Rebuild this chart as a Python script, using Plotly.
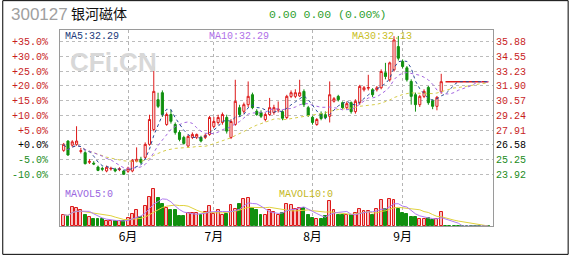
import plotly.graph_objects as go
import pandas as pd

# ---------------- data ----------------
opens = [26.08, 26.92, 26.55, 26.62, 25.98, 25.87, 25.00, 24.92, 24.57, 24.45,
         24.22, 24.40, 24.37, 24.33, 24.22, 24.19, 24.22, 25.10, 25.27, 25.45,
         26.62, 27.97, 30.66, 31.29, 28.42, 29.32, 28.42, 27.70, 27.25, 26.47,
         27.25, 27.27, 27.25, 27.25, 27.52, 28.24, 28.60, 28.60, 29.05, 27.25,
         28.42, 29.94, 29.61, 30.21, 31.11, 29.61, 29.50, 28.87, 29.32, 29.50,
         29.72, 29.58, 29.05, 30.96, 30.96, 31.00, 31.41, 29.94, 29.07, 28.42,
         29.41, 29.30, 29.16, 30.52, 30.96, 30.39, 29.94, 30.39, 29.58, 30.39,
         31.56, 31.70, 31.56, 31.56, 31.74, 33.09, 32.46, 33.36, 35.46, 34.11,
         33.54, 32.31, 31.11, 30.21, 30.96, 31.77, 30.57, 30.06, 31.41]
highs = [26.75, 27.00, 27.00, 28.26, 26.30, 26.00, 25.30, 25.10, 24.70, 24.60,
         24.70, 24.60, 24.50, 24.55, 24.30, 24.60, 25.30, 26.35, 25.50, 26.80,
         29.30, 33.66, 31.29, 31.50, 29.50, 29.76, 28.60, 27.90, 27.40, 27.50,
         27.70, 27.60, 27.40, 27.60, 29.20, 29.10, 29.30, 29.50, 29.30, 28.90,
         32.46, 30.20, 30.40, 32.31, 31.30, 29.80, 29.70, 29.50, 30.82, 30.20,
         30.50, 29.70, 31.10, 31.50, 31.60, 32.46, 31.60, 30.10, 29.20, 29.00,
         29.60, 29.60, 32.31, 30.90, 31.10, 30.50, 30.50, 30.50, 30.70, 32.00,
         31.90, 32.91, 31.70, 31.90, 33.40, 33.99, 34.10, 36.40, 36.42, 34.30,
         33.70, 32.50, 31.30, 31.10, 31.60, 31.90, 30.70, 31.00, 33.00]
lows = [25.95, 25.60, 26.40, 26.50, 25.80, 24.80, 24.85, 24.75, 24.20, 24.20,
        24.10, 24.25, 24.10, 24.20, 23.85, 24.05, 24.10, 25.00, 24.85, 25.30,
        26.50, 27.80, 29.90, 29.10, 28.30, 28.50, 27.50, 26.90, 26.60, 26.30,
        27.10, 27.10, 26.80, 27.10, 27.40, 28.10, 28.40, 28.40, 27.60, 27.10,
        28.30, 29.10, 29.40, 30.00, 29.80, 29.20, 29.00, 28.70, 29.20, 29.30,
        29.50, 28.80, 28.90, 30.80, 30.80, 30.90, 30.00, 29.10, 28.40, 28.30,
        28.80, 28.90, 28.60, 30.40, 30.50, 29.80, 29.80, 29.40, 29.40, 30.20,
        31.40, 31.50, 30.90, 31.40, 31.60, 32.50, 32.30, 33.20, 34.20, 33.50,
        32.30, 30.21, 29.58, 30.00, 30.80, 30.20, 29.80, 29.70, 31.20]
closes = [26.62, 25.66, 26.85, 26.92, 26.05, 24.88, 25.08, 24.85, 24.27, 24.38,
          24.55, 24.45, 24.22, 24.40, 23.92, 24.46, 25.18, 25.27, 25.00, 26.62,
          28.87, 31.41, 30.06, 29.32, 29.32, 28.71, 27.70, 27.07, 26.71, 27.34,
          27.52, 27.52, 26.92, 27.43, 29.05, 28.69, 29.05, 29.32, 27.82, 28.69,
          30.51, 29.32, 30.21, 30.96, 29.94, 29.32, 29.16, 29.32, 29.94, 29.94,
          29.80, 28.98, 30.96, 31.29, 31.29, 31.29, 30.21, 29.25, 28.60, 28.87,
          28.96, 29.05, 31.11, 30.75, 30.66, 29.94, 30.30, 29.58, 30.51, 31.86,
          31.74, 31.76, 31.11, 31.74, 33.21, 32.76, 33.99, 36.06, 34.41, 33.66,
          32.46, 30.96, 30.21, 30.96, 31.41, 30.39, 30.06, 30.87, 32.29]
# suspended days (no trading, price held at last close)
suspended_close = [32.29] * 11

volumes = [3400, 3000, 5700, 5500, 4700, 3400, 2700, 2000, 2000, 2000,
           1600, 1400, 1500, 1600, 1500, 2400, 3700, 4700, 2700, 6000,
           8700, 11000, 8400, 6700, 5400, 4900, 4700, 3000, 3000, 3900,
           3900, 3900, 3200, 4200, 6000, 3700, 4700, 3200, 3700, 6400,
           5200, 6700, 8200, 8400, 5400, 4700, 3200, 3400, 4700, 4200,
           3400, 4000, 6700, 6200, 5000, 5400, 5400, 3400, 2400, 2200,
           2200, 3000, 7400, 4700, 3200, 3200, 3400, 3200, 3900, 5200,
           4500, 4500, 3400, 5000, 7700, 5000, 8000, 7700, 5200, 4000,
           3700, 2700, 2700, 2200, 2200, 2400, 1700, 2200, 4200]
suspended_volume = [0] * 11

month_pos = [15, 35, 58, 79]
month_labels = ["6月", "7月", "8月", "9月"]

price_ticks = [35.88, 34.55, 33.23, 31.90, 30.57, 29.24, 27.91, 26.58, 25.25, 23.92]
price_labels = ["35.88", "34.55", "33.23", "31.90", "30.57", "29.24", "27.91", "26.58", "25.25", "23.92"]
pct_labels = ["+35.0%", "+30.0%", "+25.0%", "+20.0%", "+15.0%", "+10.0%", "+5.0%", "+0.0%", "-5.0%", "-10.0%"]

title_code = "300127"
title_name = "银河磁体"
title_quote = "0.00 0.00 (0.00%)"
ma_texts = ["MA5:32.29", "MA10:32.29", "MA30:32.13"]
mavol_texts = ["MAVOL5:0", "MAVOL10:0"]

# ---------------- derived ----------------
n_trade = len(closes)
all_close = closes + suspended_close
all_vol = volumes + suspended_volume
idx = list(range(len(all_close)))
cs = pd.Series(all_close)
vs = pd.Series(all_vol, dtype=float)
ma5 = cs.rolling(5, min_periods=1).mean()
ma10 = cs.rolling(10, min_periods=1).mean()
ma30 = cs.rolling(30, min_periods=1).mean()
mv5 = vs.rolling(5, min_periods=1).mean()
mv10 = vs.rolling(10, min_periods=1).mean()

RED = "#dd1a1a"
GREEN = "#10900f"
LBL_RED = "#c81e1e"
LBL_GREEN = "#238c23"

W, H = 569, 256
L, R, T, B = 58, 76, 30, 29
PW, PH = W - L - R, H - T - B


def px(x):
    return (x - L) / PW


def py(y):
    return (H - B - y) / PH


def colored(labels, base_idx):
    out = []
    for k, s in enumerate(labels):
        c = LBL_RED if k < base_idx else ("#000000" if k == base_idx else LBL_GREEN)
        out.append(f"<span style='color:{c}'>{s}</span>")
    return out


fig = go.Figure()

fig.add_trace(go.Candlestick(
    x=idx[:n_trade], open=opens, high=highs, low=lows, close=closes,
    increasing=dict(line=dict(color=RED, width=1), fillcolor="white"),
    decreasing=dict(line=dict(color=GREEN, width=1), fillcolor=GREEN),
    whiskerwidth=0, showlegend=False, hoverinfo="skip"))

# flat line on suspended days
fig.add_trace(go.Scatter(x=idx[n_trade:], y=suspended_close, mode="lines",
                         line=dict(color=RED, width=1.5), showlegend=False, hoverinfo="skip"))

for ser, col in [(ma30, "#d6cc4a"), (ma10, "#a466e0"), (ma5, "#2b4a96")]:
    fig.add_trace(go.Scatter(x=idx, y=ser, mode="lines",
                             line=dict(color=col, width=1, dash="dot"),
                             showlegend=False, hoverinfo="skip"))

vcol_fill = []
vcol_line = []
for k in range(len(all_vol)):
    if k < n_trade and closes[k] >= opens[k]:
        vcol_fill.append("#f6c2c2"); vcol_line.append(RED)
    else:
        vcol_fill.append(GREEN); vcol_line.append(GREEN)

fig.add_trace(go.Bar(x=idx, y=all_vol, yaxis="y2", width=0.68,
                     marker=dict(color=vcol_fill, line=dict(color=vcol_line, width=1)),
                     showlegend=False, hoverinfo="skip"))
fig.add_trace(go.Scatter(x=idx, y=mv10, yaxis="y2", mode="lines",
                         line=dict(color="#e0d23c", width=1), showlegend=False, hoverinfo="skip"))
fig.add_trace(go.Scatter(x=idx, y=mv5, yaxis="y2", mode="lines",
                         line=dict(color="#b07cf0", width=1), showlegend=False, hoverinfo="skip"))

# invisible trace to carry the right-hand price axis
fig.add_trace(go.Scatter(x=idx[n_trade:], y=suspended_close, yaxis="y3", mode="lines",
                         line=dict(color="rgba(0,0,0,0)", width=0), showlegend=False, hoverinfo="skip"))

yr = [35.88 - (H - B - 42) / 11.12, 35.88 + (42 - T) / 11.12]
mono = "Liberation Mono, DejaVu Sans Mono, monospace"

fig.update_layout(
    width=W, height=H, margin=dict(l=L, r=R, t=T, b=B),
    paper_bgcolor="white", plot_bgcolor="white",
    bargap=0,
    xaxis=dict(range=[-0.86, 100.07], tickmode="array", tickvals=month_pos, ticktext=month_labels,
               showgrid=True, gridcolor="#b4b4b4", griddash="dot", gridwidth=1,
               showline=True, linecolor="#9a9a9a", linewidth=1, mirror=True,
               zeroline=False, ticks="", rangeslider=dict(visible=False),
               tickfont=dict(family="Noto Sans CJK SC", size=12, color="#000000")),
    yaxis=dict(domain=[0, 1], range=yr, tickmode="array", tickvals=price_ticks,
               ticktext=colored(pct_labels, 7),
               showgrid=True, gridcolor="#bcbcbc", griddash="dot", gridwidth=1,
               showline=True, linecolor="#9a9a9a", linewidth=1, zeroline=False, ticks="",
               ticklabelstandoff=9,
               tickfont=dict(family=mono, size=10)),
    yaxis3=dict(overlaying="y", side="right", range=yr, tickmode="array", tickvals=price_ticks,
                ticktext=colored(price_labels, 7), showgrid=False, zeroline=False,
                showline=True, linecolor="#9a9a9a", ticks="",
                tickfont=dict(family=mono, size=10)),
    yaxis2=dict(domain=[0, 0.25], range=[0, 11000 * (0.25 * PH) / 36.7], visible=False,
                fixedrange=True),
)

ann = []


def add_text(x, y, text, color, size, family, bold=False):
    ann.append(dict(xref="paper", yref="paper", x=px(x), y=py(y), text=("<b>%s</b>" % text) if bold else text,
                    showarrow=False, xanchor="left", yanchor="middle",
                    font=dict(color=color, size=size, family=family)))


add_text(7, 14, title_code, "#a0a0a0", 17, "Liberation Sans, Arial")
add_text(67, 13, title_name, "#111111", 14, "Noto Sans CJK SC")
add_text(266, 14, title_quote, "#2f9f2f", 11.5, mono)
add_text(61, 37, ma_texts[0], "#223c7c", 10, mono)
add_text(206, 37, ma_texts[1], "#b070e8", 10, mono)
add_text(349, 37, ma_texts[2], "#c8be1e", 10, mono)
add_text(61, 195, mavol_texts[0], "#9a66e0", 10, mono)
add_text(276, 195, mavol_texts[1], "#c4b81e", 10, mono)
add_text(66, 62, "CFi.CN", "#d8d8d8", 26, "Liberation Sans, Arial", bold=True)
fig.update_layout(annotations=ann)

# outer frame of the picture
fig.add_shape(type="rect", xref="paper", yref="paper",
              x0=px(0.5), x1=px(W - 0.5), y0=py(H - 0.5), y1=py(0.5),
              line=dict(color="#000000", width=1), fillcolor="rgba(0,0,0,0)", layer="above")

fig.write_html("out.html")
